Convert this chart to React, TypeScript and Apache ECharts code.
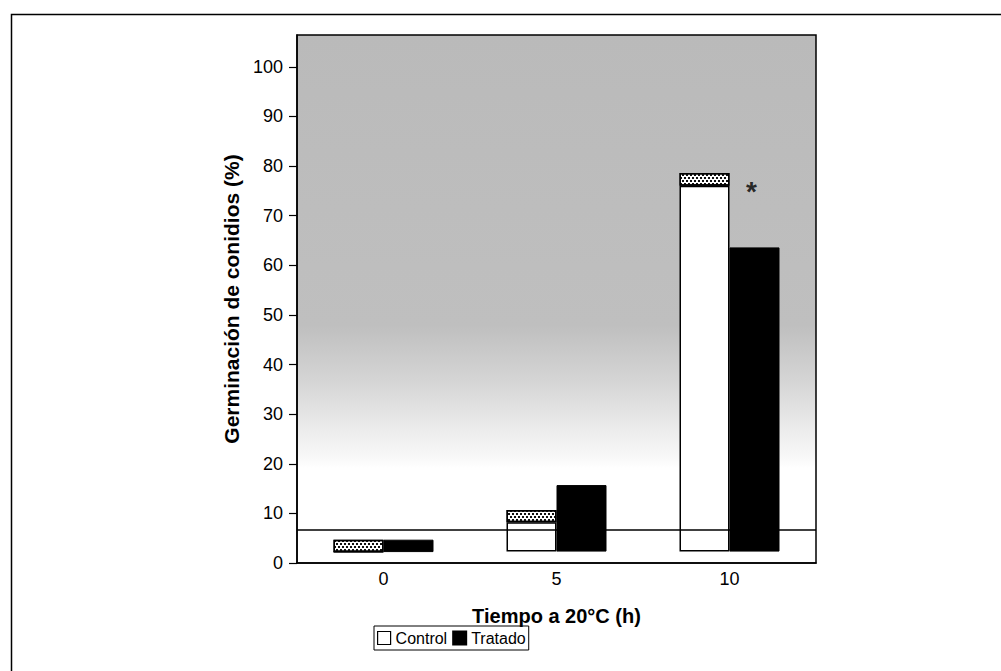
import React, { useEffect, useRef } from "react";
import * as echarts from "echarts";

const categories = ["0", "5", "10"];
const barBase = [2.2, 2.3, 2.3];
const controlTop = [2.2, 8.2, 76.0];
const controlCapTop = [4.7, 10.7, 78.6];
const tratadoTop = [4.7, 15.7, 63.6];
const referenceLine = 6.7;
const asteriskAt = { category: "10", value: 75.7 };
const yTicks = [0, 10, 20, 30, 40, 50, 60, 70, 80, 90, 100];
const yMax = 106.4;

const FONT = "'Liberation Sans', Arial, sans-serif";

export default function App() {
  const ref = useRef<HTMLDivElement>(null);
  useEffect(() => {
    if (!ref.current) return;
    const chart = echarts.init(ref.current, null, { renderer: "svg" });
    const whiteSeg = controlTop.map((v, i) => +(v - barBase[i]).toFixed(2));
    const capSeg = controlCapTop.map((v, i) => +(v - controlTop[i]).toFixed(2));
    const blackSeg = tratadoTop.map((v, i) => +(v - barBase[i]).toFixed(2));
    const hatch = {
      symbol: "rect",
      symbolSize: 1,
      color: "#111",
      backgroundColor: "#fff",
      dashArrayX: [[2, 2], [0, 2, 2, 0]],
      dashArrayY: [2, 0.01],
      rotation: 0,
    };
    chart.setOption({
      animation: false,
      textStyle: { fontFamily: FONT, color: "#000" },
      grid: {
        left: 297,
        right: 185,
        top: 35,
        bottom: 108,
        show: true,
        borderColor: "#000",
        borderWidth: 1.5,
        backgroundColor: {
          type: "linear",
          x: 0,
          y: 0,
          x2: 0,
          y2: 1,
          colorStops: [
            { offset: 0, color: "#bababa" },
            { offset: 0.55, color: "#bfbfbf" },
            { offset: 0.66, color: "#d6d6d6" },
            { offset: 0.74, color: "#eaeaea" },
            { offset: 0.8, color: "#f8f8f8" },
            { offset: 0.82, color: "#ffffff" },
            { offset: 1, color: "#ffffff" },
          ],
        },
      },
      legend: {
        left: 374,
        top: 626,
        orient: "horizontal",
        itemWidth: 13,
        itemHeight: 13,
        itemGap: 5,
        padding: [4, 3, 4, 3],
        borderColor: "#000",
        borderWidth: 1,
        icon: "rect",
        selectedMode: false,
        textStyle: { fontFamily: FONT, fontSize: 16, color: "#000" },
        data: [
          { name: "Control", itemStyle: { color: "#fff", borderColor: "#000", borderWidth: 1.2 } },
          { name: "Tratado", itemStyle: { color: "#000" } },
        ],
      },
      xAxis: {
        type: "category",
        data: categories,
        axisLine: { lineStyle: { color: "#000", width: 1.5 } },
        axisTick: { show: false },
        axisLabel: { fontSize: 18, color: "#000", margin: 7, fontFamily: FONT },
        name: "Tiempo a 20°C (h)",
        nameLocation: "middle",
        nameGap: 43,
        nameTextStyle: { fontSize: 20, fontWeight: "bold", color: "#000", fontFamily: FONT },
      },
      yAxis: {
        type: "value",
        min: 0,
        max: yMax,
        interval: 10,
        splitLine: { show: false },
        axisLine: { show: true, lineStyle: { color: "#000", width: 1.5 } },
        axisTick: { show: true, length: 8, lineStyle: { color: "#000", width: 1.2 }, customValues: yTicks },
        axisLabel: { fontSize: 18, color: "#000", margin: 14, fontFamily: FONT, customValues: yTicks },
        name: "Germinación de conidios (%)",
        nameLocation: "middle",
        nameGap: 48,
        nameTextStyle: { fontSize: 21, fontWeight: "bold", color: "#000", fontFamily: FONT },
      },
      series: [
        {
          name: "refline",
          type: "line",
          data: [],
          z: 1,
          markLine: {
            silent: true,
            symbol: "none",
            label: { show: false },
            lineStyle: { color: "#000", width: 1.5, type: "solid" },
            data: [{ yAxis: referenceLine }],
          },
        },
        {
          name: "baseC",
          type: "bar",
          stack: "c",
          barWidth: 50,
          barGap: "0%",
          data: barBase,
          itemStyle: { color: "transparent" },
          z: 2,
        },
        {
          name: "Control",
          type: "bar",
          stack: "c",
          barWidth: 50,
          data: whiteSeg,
          itemStyle: { color: "#fff", borderColor: "#000", borderWidth: 1.5 },
          z: 3,
        },
        {
          name: "ControlCap",
          type: "bar",
          stack: "c",
          barWidth: 50,
          data: capSeg,
          itemStyle: { color: "#fff", borderColor: "#000", borderWidth: 1.5, decal: hatch },
          z: 3,
        },
        {
          name: "baseT",
          type: "bar",
          stack: "t",
          barWidth: 50,
          barGap: "0%",
          data: barBase,
          itemStyle: { color: "transparent" },
          z: 2,
        },
        {
          name: "Tratado",
          type: "bar",
          stack: "t",
          barWidth: 50,
          data: blackSeg,
          itemStyle: { color: "#000", borderColor: "#000", borderWidth: 1 },
          z: 3,
        },
        {
          name: "asterisk",
          type: "scatter",
          symbolSize: 0,
          z: 5,
          data: [[asteriskAt.category, asteriskAt.value]],
          label: {
            show: true,
            formatter: "*",
            position: "inside",
            offset: [22, 4],
            fontSize: 28,
            fontWeight: "bold",
            color: "#000",
            fontFamily: FONT,
          },
        },
      ],
      graphic: [
        {
          type: "rect",
          left: 9,
          top: 12,
          shape: { width: 1200, height: 900 },
          style: { fill: "none", stroke: "#000", lineWidth: 1.5 },
          silent: true,
          z: 0,
        },
      ],
    });
    return () => chart.dispose();
  }, []);
  return (
    <div
      ref={ref}
      style={{ position: "fixed", left: 0, top: 0, width: 1001, height: 671, background: "#fff" }}
    />
  );
}
